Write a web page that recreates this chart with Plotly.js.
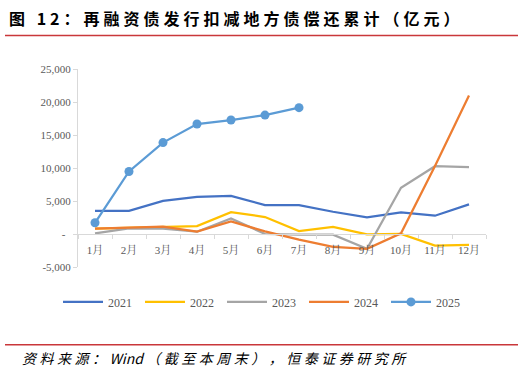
<!DOCTYPE html>
<html><head><meta charset="utf-8">
<script src="https://cdn.plot.ly/plotly-3.0.1.min.js"></script>
<style>html,body{margin:0;padding:0;background:#fff;}#chart{width:525px;height:375px;}</style>
</head><body><div id="chart"></div>
<script>
const months = ["1月","2月","3月","4月","5月","6月","7月","8月","9月","10月","11月","12月"];
const s2021 = [3520,3520,5030,5640,5790,4380,4380,3370,2520,3270,2770,4480];
const s2022 = [800,950,1100,1200,3320,2570,450,1060,-50,0,-1760,-1660];
const s2023 = [100,860,800,350,2370,0,-100,-100,-2250,7000,10270,10120];
const s2024 = [800,950,1100,350,1920,400,-850,-1950,-2250,100,10300,21000];
const s2025 = [1700,9470,13850,16660,17270,18020,19140];
const yTicks = [-5000,0,5000,10000,15000,20000,25000];
const yTickText = ["-5,000","-  ","5,000","10,000","15,000","20,000","25,000"];
const seriesNames = ["2021","2022","2023","2024","2025"];
const colors = ["#4472C4","#FFC000","#A5A5A5","#ED7D31","#5B9BD5"];
const titleText = "图 12：再融资债发行扣减地方债偿还累计（亿元）";
const sourceText = "资料来源：Wind（截至本周末），恒泰证券研究所";

// add spacing only between non-Latin characters
function spaced(s, sp){
  const ch = Array.from(s); let out = '';
  ch.forEach((c,i)=>{ out += c; const n = ch[i+1];
    if(n !== undefined && !(/[A-Za-z]/.test(c) && /[A-Za-z]/.test(n))) out += sp; });
  return out;
}

const data = [s2021,s2022,s2023,s2024].map((s,i)=>({
  x: months, y: s, name: seriesNames[i], type:'scatter', mode:'lines',
  line:{color:colors[i], width:2.25}
}));
data.push({x: months.slice(0,s2025.length), y: s2025, name: seriesNames[4], type:'scatter', mode:'lines+markers',
  line:{color:colors[4], width:2.25}, marker:{color:colors[4], size:9}});

const W=408, H=198.5, L=78, T=68.5;
const px=v=>(v-L)/W, py=v=>(T+H-v)/H;
const layout = {
  width:525, height:375,
  margin:{l:78, r:39, t:68.5, b:108},
  paper_bgcolor:'#fff', plot_bgcolor:'#fff',
  showlegend:true,
  legend:{orientation:'h', x:px(58), xanchor:'left', y:py(302), yanchor:'middle',
    font:{family:'"Liberation Serif", serif', size:12, color:'#595959'}, entrywidth:27, itemwidth:40},
  xaxis:{type:'category', anchor:'free', position:33/198.5, showline:true, linecolor:'#D9D9D9', linewidth:1,
    ticks:'outside', tickson:'boundaries', ticklen:4, tickcolor:'#D9D9D9', showgrid:false, zeroline:false,
    ticklabelstandoff:6,
    tickfont:{family:'"Liberation Serif", "Noto Serif CJK SC", serif', size:11, color:'#595959'}, range:[-0.5,11.5]},
  yaxis:{range:[-5000,25000], tickvals:yTicks, ticktext:yTickText, showline:true, linecolor:'#D9D9D9', linewidth:1,
    ticks:'outside', ticklen:4, tickcolor:'#D9D9D9', showgrid:false, zeroline:false,
    tickfont:{family:'"Liberation Serif", serif', size:11, color:'#595959'}},
  shapes:[
    {type:'line', xref:'paper', yref:'paper', x0:px(5), x1:px(518), y0:py(35), y1:py(35), line:{color:'#C9373A', width:1.5}},
    {type:'line', xref:'paper', yref:'paper', x0:px(5), x1:px(518), y0:py(345), y1:py(345), line:{color:'#C9373A', width:1.5}}
  ],
  annotations:[
    {xref:'paper', yref:'paper', x:px(7), y:py(17), xanchor:'left', yanchor:'middle', showarrow:false,
     text:'<b>'+spaced(titleText,'\u2005')+'</b>',
     font:{family:'"Noto Sans CJK SC", sans-serif', size:16, color:'#000'}},
    {xref:'paper', yref:'paper', x:px(20), y:py(358), xanchor:'left', yanchor:'middle', showarrow:false,
     text:'<i>'+spaced(sourceText,'\u2005')+'</i>',
     font:{family:'"Noto Sans CJK SC", sans-serif', size:14, color:'#000'}}
  ]
};
Plotly.newPlot('chart', data, layout, {displayModeBar:false, staticPlot:true});
</script></body></html>
